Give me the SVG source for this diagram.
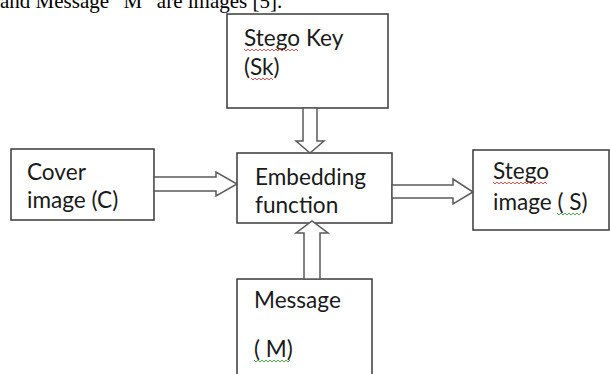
<svg xmlns="http://www.w3.org/2000/svg" width="610" height="374" viewBox="0 0 610 374">
<style>
.box{fill:#fff;stroke:#3a3a3a;stroke-width:1.5}
.arr{fill:#fff;stroke:#5a5a5a;stroke-width:1.5;stroke-linejoin:miter}
.lbl{font-family:Lato,"Liberation Sans",sans-serif;font-size:22.6px;fill:#1a1a1a}
.red{fill:none;stroke:#e23a3a;stroke-width:0.9}
.grn{fill:none;stroke:#3aa03a;stroke-width:0.9}
.hdr{font-family:"Liberation Serif",serif;font-size:21px;fill:#000}
</style>
<rect width="610" height="374" fill="#fff"/>
<text class="hdr" x="0" y="8">and Message “M” are images [5].</text>
<g id="stego-key">
<rect class="box" x="227" y="14" width="161" height="94"/>
<text class="lbl" x="244" y="46">Stego Key</text>
<text class="lbl" x="244" y="75">(Sk)</text>
<path class="red" d="M244,49 l2,2 l2,-2 l2,2 l2,-2 l2,2 l2,-2 l2,2 l2,-2 l2,2 l2,-2 l2,2 l2,-2 l2,2 l2,-2 l2,2 l2,-2 l2,2 l2,-2 l2,2 l2,-2 l2,2 l2,-2 l2,2 l2,-2 l2,2 l2,-2 l2,2"/>
<path class="red" d="M251,78 l2,2 l2,-2 l2,2 l2,-2 l2,2 l2,-2 l2,2 l2,-2 l2,2 l2,-2 l2,2"/>
</g>
<g id="cover">
<rect class="box" x="11" y="149" width="143" height="71"/>
<text class="lbl" x="27" y="180">Cover</text>
<text class="lbl" x="27" y="208">image (C)</text>
</g>
<g id="embedding">
<rect class="box" x="237" y="153" width="155" height="70"/>
<text class="lbl" x="255" y="185">Embedding</text>
<text class="lbl" x="255" y="213">function</text>
</g>
<g id="stego-image">
<rect class="box" x="473" y="150" width="136" height="80"/>
<text class="lbl" x="493" y="179">Stego</text>
<text class="lbl" x="493" y="210">image ( S)</text>
<path class="red" d="M493,182 l2,2 l2,-2 l2,2 l2,-2 l2,2 l2,-2 l2,2 l2,-2 l2,2 l2,-2 l2,2 l2,-2 l2,2 l2,-2 l2,2 l2,-2 l2,2 l2,-2 l2,2 l2,-2 l2,2 l2,-2 l2,2 l2,-2 l2,2 l2,-2 l2,2"/>
<path class="grn" d="M557,213 l2,2 l2,-2 l2,2 l2,-2 l2,2 l2,-2 l2,2 l2,-2 l2,2 l2,-2 l2,2 l2,-2"/>
</g>
<g id="message">
<rect class="box" x="237" y="279" width="135" height="110"/>
<text class="lbl" x="254" y="308">Message</text>
<text class="lbl" x="254" y="357">( M)</text>
<path class="grn" d="M254,360 l2,2 l2,-2 l2,2 l2,-2 l2,2 l2,-2 l2,2 l2,-2 l2,2 l2,-2 l2,2 l2,-2 l2,2 l2,-2 l2,2 l2,-2 l2,2 l2,-2"/>
</g>
<g id="connectors">
<path class="arr" d="M303,108 L317,108 L317,141 L324,141 L310,153 L296,141 L303,141 Z"/>
<path class="arr" d="M154,177 L216,177 L216,172 L237,184 L216,196 L216,191 L154,191 Z"/>
<path class="arr" d="M392,185 L453,185 L453,179 L473,192 L453,204 L453,198 L392,198 Z"/>
<path class="arr" d="M304,279 L304,233 L296,233 L312,221 L328,233 L320,233 L320,279 Z"/>
</g>
</svg>
